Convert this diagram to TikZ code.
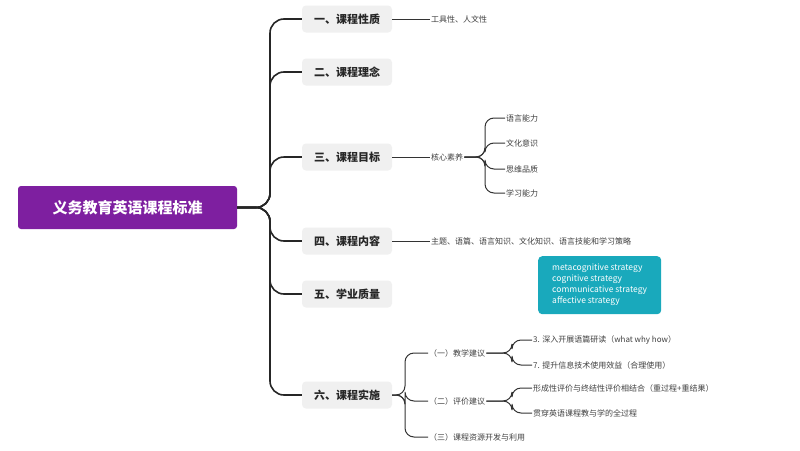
\documentclass[tikz,border=0pt]{standalone}
\usepackage{fontspec}
\setmainfont{Noto Sans CJK SC}
\begin{document}
\begin{tikzpicture}[x=1pt,y=-1pt,
  rootbox/.style={fill=rootc,rounded corners=3pt,minimum width=219pt,minimum height=43pt,text=white,font=\bfseries\fontsize{15}{18}\selectfont},
  branchbox/.style={fill=black!6,rounded corners=4pt,minimum width=90pt,minimum height=27pt,font=\bfseries\fontsize{11}{13}\selectfont,text=black!85},
  leaf/.style={inner sep=1pt,anchor=west,font=\fontsize{8}{10}\selectfont,text=black!75},
  mainline/.style={line width=1.6pt,black!85,rounded corners=14pt},
  subline/.style={line width=1pt,black!80,rounded corners=9pt}]
\useasboundingbox (0,0) rectangle (800,450);
\fill[white] (0,0) rectangle (800,450);
\definecolor{rootc}{HTML}{7E1FA0}
\definecolor{tealc}{HTML}{19A9BC}
\node[rootbox] (root) at (127.5,207.5) {义务教育英语课程标准};
\node[branchbox] (b1) at (347,19) {一、课程性质};
\node[branchbox] (b2) at (347,72) {二、课程理念};
\node[branchbox] (b3) at (347,157) {三、课程目标};
\node[branchbox] (b4) at (347,241) {四、课程内容};
\node[branchbox] (b5) at (347,294) {五、学业质量};
\node[branchbox] (b6) at (347,395) {六、课程实施};
\foreach \b in {b1,b2,b3,b4,b5,b6}
  \draw[mainline] (root.east) -- (270,207.5) -- (270,0 |- \b.west) -- (\b.west);
\node[leaf] (t1) at (430,19) {工具性、人文性};
\draw[subline] (b1.east) -- (t1.west);
\node[leaf] (t3) at (430,157) {核心素养};
\draw[subline] (b3.east) -- (t3.west);
\foreach \n/\y/\t in {l1/118/语言能力,l2/143/文化意识,l3/169/思维品质,l4/193/学习能力}{
  \node[leaf] (\n) at (505,\y) {\t};
  \draw[subline] (t3.east) -- (485,157) -- (485,\y) -- (\n.west);}
\node[leaf] (t4) at (430,241) {主题、语篇、语言知识、文化知识、语言技能和学习策略};
\draw[subline] (b4.east) -- (t4.west);
\node[fill=tealc,rounded corners=4pt,text=white,align=left,anchor=north west,minimum width=123pt,minimum height=58pt,inner sep=6pt,font=\fontsize{8.5}{11}\selectfont] (note) at (538,256) {metacognitive strategy\\cognitive strategy\\communicative strategy\\affective strategy};
\node[leaf] (s1) at (428,353) {（一）教学建议};
\node[leaf] (s2) at (428,401) {（二）评价建议};
\node[leaf] (s3) at (428,437) {（三）课程资源开发与利用};
\foreach \s in {s1,s2,s3}
  \draw[subline] (b6.east) -- (405,395) -- (405,0 |- \s.west) -- (\s.west);
\node[leaf] (c1) at (532,340) {3. 深入开展语篇研读（what why how）};
\node[leaf] (c2) at (532,365) {7. 提升信息技术使用效益（合理使用）};
\node[leaf] (c3) at (532,388) {形成性评价与终结性评价相结合（重过程+重结果）};
\node[leaf] (c4) at (532,413) {贯穿英语课程教与学的全过程};
\foreach \c in {c1,c2}
  \draw[subline] (s1.east) -- (512,353) -- (512,0 |- \c.west) -- (\c.west);
\foreach \c in {c3,c4}
  \draw[subline] (s2.east) -- (512,401) -- (512,0 |- \c.west) -- (\c.west);
\end{tikzpicture}
\end{document}
